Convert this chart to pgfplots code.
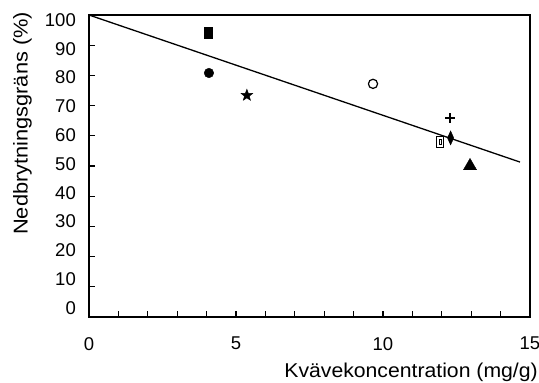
\documentclass[border=0pt]{standalone}
\usepackage{fontspec}
\setmainfont{Liberation Sans}
\newfontfamily\xlabfont[FakeStretch=1.06]{Liberation Sans}
\newfontfamily\ylabfont[FakeStretch=1.09]{Liberation Sans}
\usepackage{pgfplots}
\pgfplotsset{compat=1.18}
\pgfdeclareplotmark{fstar}{%
  \pgfpathmoveto{\pgfpointpolar{90}{\pgfplotmarksize}}%
  \pgfpathlineto{\pgfpointpolar{126}{0.42\pgfplotmarksize}}%
  \pgfpathlineto{\pgfpointpolar{162}{\pgfplotmarksize}}%
  \pgfpathlineto{\pgfpointpolar{198}{0.42\pgfplotmarksize}}%
  \pgfpathlineto{\pgfpointpolar{234}{\pgfplotmarksize}}%
  \pgfpathlineto{\pgfpointpolar{270}{0.42\pgfplotmarksize}}%
  \pgfpathlineto{\pgfpointpolar{306}{\pgfplotmarksize}}%
  \pgfpathlineto{\pgfpointpolar{342}{0.42\pgfplotmarksize}}%
  \pgfpathlineto{\pgfpointpolar{18}{\pgfplotmarksize}}%
  \pgfpathlineto{\pgfpointpolar{54}{0.42\pgfplotmarksize}}%
  \pgfpathclose
  \pgfusepathqfillstroke}
\newcommand{\tl}[1]{\mbox{\fontsize{18.5}{20}\selectfont #1}}
\begin{document}
\begin{tikzpicture}
\useasboundingbox (-89pt,-66pt) rectangle (450pt,317pt);
\begin{axis}[
  at={(0,0)}, anchor=south west,
  scale only axis, width=441pt, height=302pt,
  xmin=0, xmax=15, ymin=0, ymax=100,
  axis line style={line width=1.3pt},
  tick align=inside, tick pos=left,
  xtick={0,5,10,15}, xticklabels={\tl{0},\tl{5},\tl{10},\tl{15}},
  minor x tick num=4,
  ytick={0,10,...,100}, yticklabels={},
  extra y ticks={2.98,12.52,22.05,31.59,41.12,50.66,60.20,69.73,79.27,88.80,98.34},
  extra y tick labels={\tl{0},\tl{10},\tl{20},\tl{30},\tl{40},\tl{50},\tl{60},\tl{70},\tl{80},\tl{90},\tl{100}},
  extra y tick style={major tick length=0pt},
  major tick length=6pt, minor tick length=6pt,
  every tick/.style={black, line width=1.1pt},
  /pgf/number format/assume math mode=true,
  tick label style={inner sep=0pt},
  xticklabel style={anchor=north, yshift=-20pt},
  yticklabel style={anchor=east, xshift=-13pt},
  xlabel={Kvävekoncentration (mg/g)},
  xlabel style={at={(axis description cs:1.018,-0.1987)}, anchor=base east, inner sep=0pt, font=\xlabfont\fontsize{20}{22}\selectfont},
  ylabel={Nedbrytningsgräns (\%)},
  ylabel style={at={(axis description cs:-0.139,0.2715)}, anchor=base west, inner sep=0pt, font=\ylabfont\fontsize{20}{22}\selectfont},
]
\addplot[black, line width=1.3pt] coordinates {(0,100) (14.66,51.3)};
% filled rectangle
\addplot[only marks, mark=square*, mark size=5.5pt, mark options={black, fill=black, xscale=0.68}] coordinates {(4.05,94.0)};
% filled circle
\addplot[only marks, mark=*, mark size=4.8pt, mark options={black, fill=black}] coordinates {(4.08,80.8)};
% star
\addplot[only marks, mark=fstar, mark size=6pt, mark options={black, fill=black, line width=0.5pt}] coordinates {(5.37,73.4)};
% open circle
\addplot[only marks, mark=o, mark size=4.6pt, mark options={black, line width=1.2pt}] coordinates {(9.66,77.2)};
% plus
\addplot[only marks, mark=+, mark size=4.8pt, mark options={black, line width=2pt}] coordinates {(12.28,65.9)};
% open rectangle with inner box
\addplot[only marks, mark=square, mark size=5.6pt, mark options={black, fill=white, line width=1.1pt, xscale=0.6}] coordinates {(11.94,57.9)};
\addplot[only marks, mark=square, mark size=2.6pt, mark options={black, line width=0.8pt, xscale=0.35}] coordinates {(11.94,57.9)};
% diamond
\addplot[only marks, mark=diamond*, mark size=7pt, mark options={black, fill=black, xscale=0.6}] coordinates {(12.30,59.3)};
% triangle
\addplot[only marks, mark=triangle*, mark size=7.6pt, mark options={black, fill=black}] coordinates {(12.96,50.0)};
\end{axis}
\end{tikzpicture}
\end{document}
